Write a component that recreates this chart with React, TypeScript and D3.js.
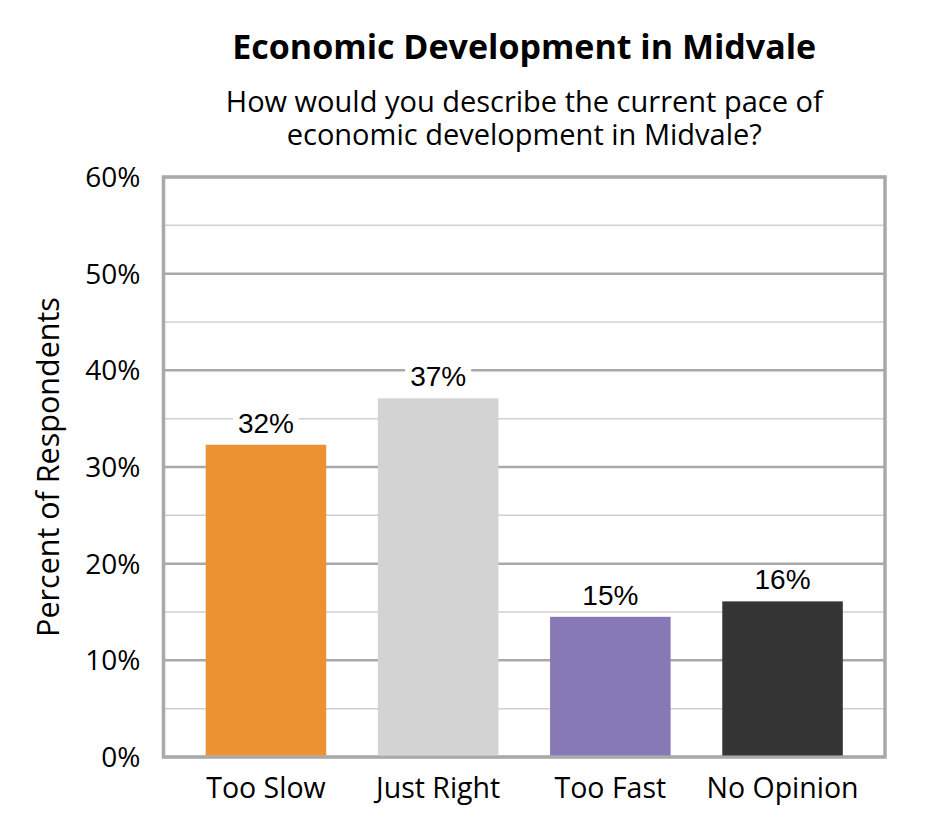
import React from 'react';
import * as d3 from 'd3';

const categories = ['Too Slow', 'Just Right', 'Too Fast', 'No Opinion'];
const values = [32.3, 37.1, 14.5, 16.1];
const valueLabels = ['32%', '37%', '15%', '16%'];
const barColors = ['#EC9233', '#D3D3D3', '#8779B5', '#353535'];
const yTicks = [0, 10, 20, 30, 40, 50, 60];
const minorTicks = [5, 15, 25, 35, 45, 55];
const subtitleLines = ['How would you describe the current pace of', 'economic development in Midvale?'];

const W = 945;
const H = 840;
const margin = { top: 177, right: 60, bottom: 83, left: 163.5 };

const App: React.FC = () => {
  const innerW = W - margin.left - margin.right;
  const innerH = H - margin.top - margin.bottom;

  const x = d3.scaleBand<string>()
    .domain(categories)
    .range([0, innerW])
    .paddingInner(0.3)
    .paddingOuter(0.245);

  const y = d3.scaleLinear().domain([0, 60]).range([innerH, 0]);

  const cx = innerW / 2;
  const sans = "'Open Sans', 'Noto Sans', sans-serif";
  const num = "'Liberation Sans', Arial, sans-serif";

  return (
    <svg width={W} height={H} style={{ position: 'absolute', left: 0, top: 0, background: '#fff' }}>
      <g transform={`translate(${margin.left},${margin.top})`}>
        {/* titles */}
        <text x={cx} y={-118} textAnchor="middle" fontFamily={sans} fontWeight="bold" fontSize={34} fill="#000">
          Economic Development in Midvale
        </text>
        <text textAnchor="middle" fontFamily={sans} fontSize={29} fill="#000">
          {subtitleLines.map((s, i) => (
            <tspan key={s} x={cx} y={-65 + i * 33}>{s}</tspan>
          ))}
        </text>

        {/* minor grid */}
        {minorTicks.map(t => (
          <line key={`m${t}`} x1={0} x2={innerW} y1={y(t)} y2={y(t)} stroke="#D0D0D0" strokeWidth={1.5} />
        ))}
        {/* major grid */}
        {yTicks.map(t => (
          <line key={`g${t}`} x1={0} x2={innerW} y1={y(t)} y2={y(t)} stroke="#A9A9A9" strokeWidth={2.5} />
        ))}
        {/* plot border */}
        <rect x={0} y={0} width={innerW} height={innerH} fill="none" stroke="#A9A9A9" strokeWidth={3.5} />

        {/* bars */}
        {categories.map((c, i) => (
          <rect key={c} x={x(c)} y={y(values[i])} width={x.bandwidth()} height={innerH - y(values[i]) - 1.5} fill={barColors[i]} />
        ))}

        {/* value labels with white background */}
        {categories.map((c, i) => {
          const lx = (x(c) ?? 0) + x.bandwidth() / 2;
          const ly = y(values[i]) - 22;
          return (
            <g key={`l${c}`}>
              <rect x={lx - 33} y={ly - 14} width={66} height={28} fill="#fff" />
              <text x={lx} y={ly} dy="0.36em" textAnchor="middle" fontFamily={num} fontSize={28} fill="#000">
                {valueLabels[i]}
              </text>
            </g>
          );
        })}

        {/* y tick labels */}
        {yTicks.map(t => (
          <text key={`t${t}`} x={-23} y={y(t)} dy="0.36em" textAnchor="end" fontFamily={sans} fontSize={28} fill="#000">
            {`${t}%`}
          </text>
        ))}

        {/* x labels */}
        {categories.map(c => (
          <text key={`x${c}`} x={(x(c) ?? 0) + x.bandwidth() / 2} y={innerH + 41} textAnchor="middle" fontFamily={sans} fontSize={28.5} fill="#000">
            {c}
          </text>
        ))}

        {/* y title */}
        <text transform={`translate(${-105},${innerH / 2}) rotate(-90)`} textAnchor="middle" fontFamily={sans} fontSize={30.5} fill="#000">
          Percent of Respondents
        </text>
      </g>
    </svg>
  );
};

export default App;
